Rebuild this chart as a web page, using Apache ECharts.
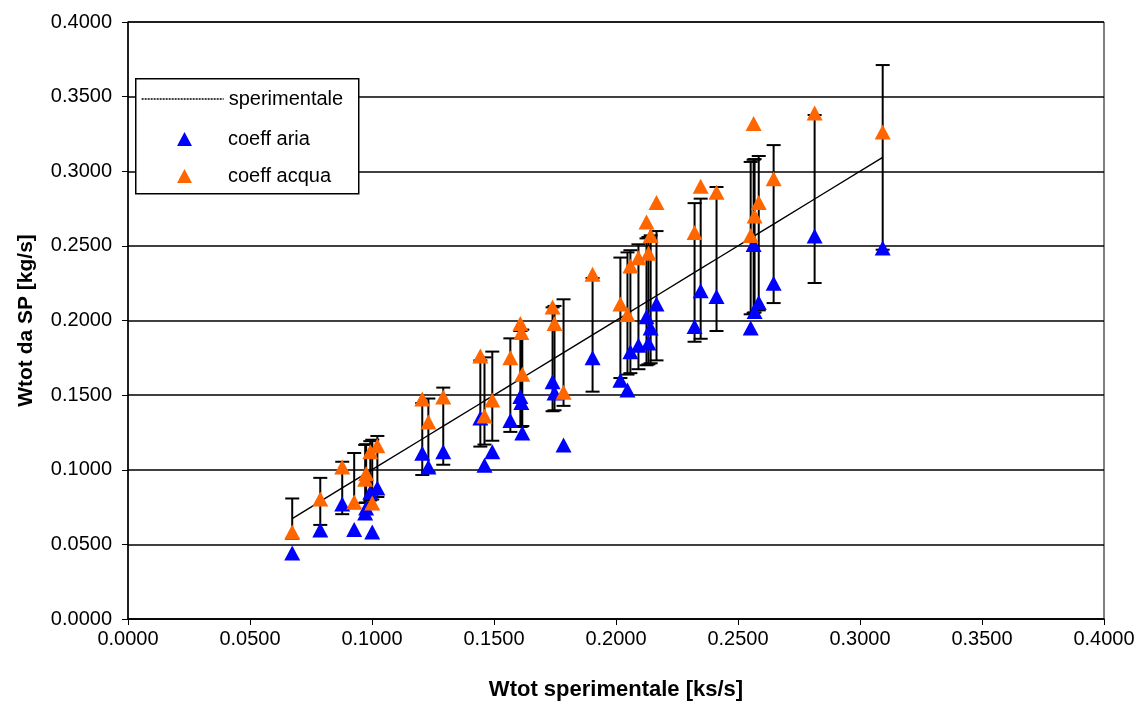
<!DOCTYPE html>
<html>
<head>
<meta charset="utf-8">
<script src="https://cdn.jsdelivr.net/npm/echarts@6/dist/echarts.min.js"></script>
<style>html,body{margin:0;padding:0;background:#fff}#c{width:1140px;height:702px}</style>
</head>
<body>
<div id="c"></div>
<script>
// experimental total flow (x) and predictions from the two coefficients
const wSperimentale = [0.0673,0.0788,0.0878,0.0927,0.0972,0.0976,0.0993,0.1001,0.1022,0.1206,0.1231,0.1292,0.1444,0.1461,0.1493,0.1567,0.1608,0.1612,0.1616,0.1740,0.1748,0.1785,0.1904,0.2018,0.2047,0.2059,0.2092,0.2125,0.2133,0.2142,0.2166,0.2322,0.2347,0.2412,0.2552,0.2564,0.2568,0.2585,0.2646,0.2814,0.3093];
const coeffAria = [0.0442,0.0596,0.0770,0.0600,0.0710,0.0744,0.0850,0.0583,0.0878,0.1110,0.1018,0.1120,0.1347,0.1030,0.1120,0.1330,0.1490,0.1450,0.1246,0.1590,0.1514,0.1166,0.1750,0.1600,0.1535,0.1790,0.1835,0.2025,0.1850,0.1950,0.2110,0.1960,0.2200,0.2160,0.1950,0.2510,0.2060,0.2120,0.2250,0.2566,0.2486];
const coeffAcqua = [0.0583,0.0804,0.1018,0.0784,0.0937,0.0975,0.1120,0.0777,0.1160,0.1474,0.1320,0.1487,0.1762,0.1360,0.1467,0.1750,0.1980,0.1920,0.1640,0.2090,0.1980,0.1520,0.2310,0.2110,0.2040,0.2365,0.2420,0.2660,0.2450,0.2570,0.2790,0.2590,0.2900,0.2860,0.2570,0.3320,0.2700,0.2790,0.2950,0.3390,0.3263];
const errorPercent = 0.20; // percentage error bars on the experimental series
const xTickLabels = ['0.0000','0.0500','0.1000','0.1500','0.2000','0.2500','0.3000','0.3500','0.4000'];
const yTickLabels = ['0.0000','0.0500','0.1000','0.1500','0.2000','0.2500','0.3000','0.3500','0.4000'];

const FONT = 'Liberation Sans';
const chart = echarts.init(document.getElementById('c'));
const expData = wSperimentale.map(v => [v, v]);

chart.setOption({
  animation: false,
  backgroundColor: '#fff',
  grid: { left: 128, right: 36, top: 22, bottom: 83, containLabel: false, outerBoundsMode: 'none',
    show: true, borderColor: '#000', borderWidth: 1, backgroundColor: 'transparent' },
  xAxis: {
    type: 'value', min: 0, max: 0.4, interval: 0.05,
    name: 'Wtot sperimentale [ks/s]', nameLocation: 'middle', nameGap: 60,
    nameTextStyle: { fontFamily: FONT, fontWeight: 'bold', fontSize: 22, color: '#000' },
    axisLine: { show: true, onZero: false, lineStyle: { color: '#000', width: 1.5 } },
    axisTick: { show: true, inside: false, length: 6, lineStyle: { color: '#000', width: 1 } },
    axisLabel: { margin: 10, fontFamily: FONT, fontSize: 20, color: '#000',
      formatter: (v) => xTickLabels[Math.round(v / 0.05)] },
    splitLine: { show: false }
  },
  yAxis: {
    type: 'value', min: 0, max: 0.4, interval: 0.05,
    name: 'Wtot da SP [kg/s]', nameLocation: 'middle', nameGap: 91,
    nameTextStyle: { fontFamily: FONT, fontWeight: 'bold', fontSize: 21, color: '#000' },
    axisLine: { show: true, onZero: false, lineStyle: { color: '#000', width: 1.5 } },
    axisTick: { show: true, inside: false, length: 6, lineStyle: { color: '#000', width: 1 } },
    axisLabel: { margin: 16, fontFamily: FONT, fontSize: 20, color: '#000',
      formatter: (v) => yTickLabels[Math.round(v / 0.05)] },
    splitLine: { show: true, lineStyle: { color: '#000', width: 1.5 } }
  },
  graphic: [{
    type: 'rect', left: 135, top: 78, z: 10,
    shape: { width: 223, height: 115 },
    style: { fill: '#fff', stroke: '#000', lineWidth: 1.5 }
  }],
  legend: [{
    data: ['sperimentale'], left: 141, top: 89, z: 20,
    itemWidth: 82, itemHeight: 10, padding: 0,
    itemStyle: { opacity: 0 },
    lineStyle: { color: '#000', width: 1.3, type: [2, 1] },
    textStyle: { fontFamily: FONT, fontSize: 20, color: '#000' }
  }, {
    data: ['coeff aria', 'coeff acqua'], orient: 'vertical', left: 177, top: 129, z: 20,
    itemWidth: 15, itemHeight: 14, itemGap: 17, padding: 0,
    textStyle: { fontFamily: FONT, fontSize: 20, color: '#000', padding: [0, 0, 0, 31] }
  }],
  series: [
    {
      name: 'sperimentale', type: 'line', data: expData, symbol: 'none', z: 2,
      lineStyle: { color: '#000', width: 1.4 }, itemStyle: { color: '#000' }
    },
    {
      name: 'errori', type: 'custom', data: expData, z: 2,
      renderItem: function (params, api) {
        const x = api.value(0);
        const y = api.value(1);
        const hi = api.coord([x, y * (1 + errorPercent)]);
        const lo = api.coord([x, y * (1 - errorPercent)]);
        const cw = 7;
        const st = { stroke: '#000', lineWidth: 2 };
        return { type: 'group', children: [
          { type: 'line', shape: { x1: hi[0], y1: hi[1], x2: lo[0], y2: lo[1] }, style: st },
          { type: 'line', shape: { x1: hi[0] - cw, y1: hi[1], x2: hi[0] + cw, y2: hi[1] }, style: st },
          { type: 'line', shape: { x1: lo[0] - cw, y1: lo[1], x2: lo[0] + cw, y2: lo[1] }, style: st }
        ] };
      }
    },
    {
      name: 'coeff aria', type: 'scatter', z: 3, symbol: 'triangle', symbolSize: [16, 15],
      itemStyle: { color: '#0000FF', opacity: 1 },
      data: wSperimentale.map((v, i) => [v, coeffAria[i]])
    },
    {
      name: 'coeff acqua', type: 'scatter', z: 4, symbol: 'triangle', symbolSize: [16, 15],
      itemStyle: { color: '#FF6600', opacity: 1 },
      data: wSperimentale.map((v, i) => [v, coeffAcqua[i]])
    }
  ]
});
</script>
</body>
</html>
